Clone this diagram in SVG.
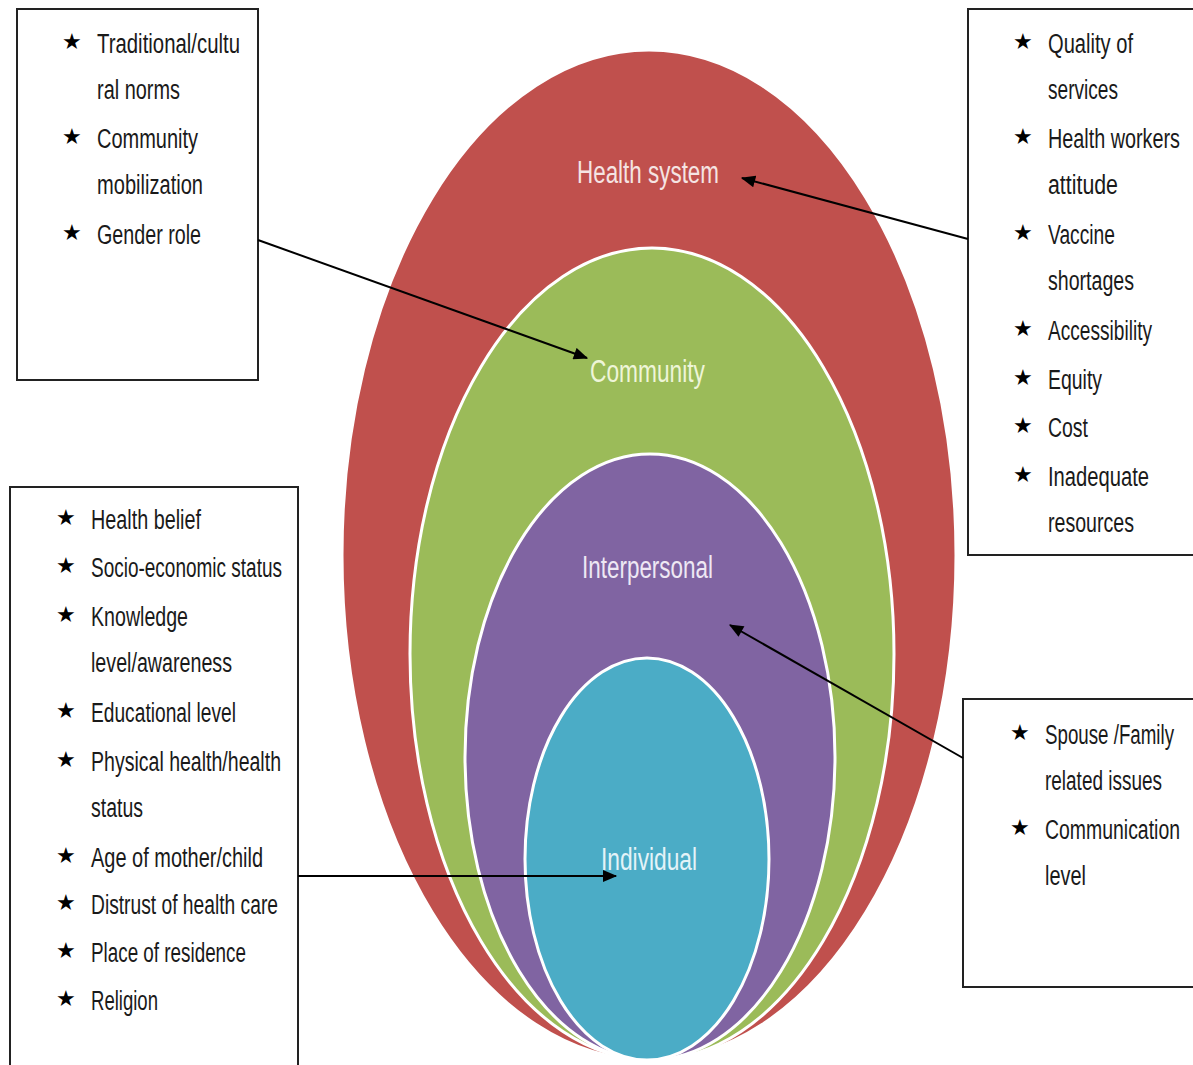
<svg xmlns="http://www.w3.org/2000/svg" width="1193" height="1065" viewBox="0 0 1193 1065">
<defs>
<marker id="ah" viewBox="0 0 12 10" refX="11" refY="5" markerWidth="15" markerHeight="12" markerUnits="userSpaceOnUse" orient="auto">
<path d="M0,0 L12,5 L0,10 z" fill="#000"/>
</marker>
</defs>
<style>
.box{fill:#fff;stroke:#222;stroke-width:2}
.it{font-family:"Liberation Sans",Arial,sans-serif;font-size:27px;fill:#1a1a1a}
.st{font-family:"DejaVu Sans",sans-serif;font-size:22px;fill:#000}
.ring{stroke:#fff;stroke-width:3}
.lbl{font-family:"Liberation Sans",Arial,sans-serif;font-size:31px;text-anchor:start}
.con{stroke:#000;stroke-width:2;fill:none;marker-end:url(#ah)}
</style>
<rect width="1193" height="1065" fill="#fff"/>
<g id="rings">
<g id="health-system"><ellipse class="ring" cx="649" cy="555" rx="307" ry="505" fill="#C0504D"/><text class="lbl" x="577" y="183" fill="#F5E4E3" textLength="142" lengthAdjust="spacingAndGlyphs">Health system</text></g>
<g id="community"><ellipse class="ring" cx="652" cy="654" rx="242" ry="406" fill="#9BBB59"/><text class="lbl" x="590" y="382" fill="#EEF5D8" textLength="115" lengthAdjust="spacingAndGlyphs">Community</text></g>
<g id="interpersonal"><ellipse class="ring" cx="650" cy="757" rx="185" ry="303" fill="#8064A2"/><text class="lbl" x="582" y="578" fill="#EEE8F4" textLength="131" lengthAdjust="spacingAndGlyphs">Interpersonal</text></g>
<g id="individual"><ellipse class="ring" cx="647" cy="859" rx="122" ry="201" fill="#4BACC6"/><text class="lbl" x="601" y="870" fill="#E4F3F8" textLength="96" lengthAdjust="spacingAndGlyphs">Individual</text></g>
</g>
<g id="box-community">
<rect class="box" x="17" y="9" width="241" height="371"/>
<text class="st" x="62" y="49">★</text><text class="it" x="97" y="53" textLength="143" lengthAdjust="spacingAndGlyphs">Traditional/cultu</text>
<text class="it" x="97" y="99" textLength="83" lengthAdjust="spacingAndGlyphs">ral norms</text>
<text class="st" x="62" y="144">★</text><text class="it" x="97" y="148" textLength="101" lengthAdjust="spacingAndGlyphs">Community</text>
<text class="it" x="97" y="194" textLength="106" lengthAdjust="spacingAndGlyphs">mobilization</text>
<text class="st" x="62" y="240">★</text><text class="it" x="97" y="244" textLength="104" lengthAdjust="spacingAndGlyphs">Gender role</text>
</g>
<g id="box-health-system">
<rect class="box" x="968" y="9" width="240" height="546"/>
<text class="st" x="1013" y="49">★</text><text class="it" x="1048" y="53" textLength="85" lengthAdjust="spacingAndGlyphs">Quality of</text>
<text class="it" x="1048" y="99" textLength="70" lengthAdjust="spacingAndGlyphs">services</text>
<text class="st" x="1013" y="144">★</text><text class="it" x="1048" y="148" textLength="132" lengthAdjust="spacingAndGlyphs">Health workers</text>
<text class="it" x="1048" y="194" textLength="70" lengthAdjust="spacingAndGlyphs">attitude</text>
<text class="st" x="1013" y="240">★</text><text class="it" x="1048" y="244" textLength="67" lengthAdjust="spacingAndGlyphs">Vaccine</text>
<text class="it" x="1048" y="290" textLength="86" lengthAdjust="spacingAndGlyphs">shortages</text>
<text class="st" x="1013" y="336">★</text><text class="it" x="1048" y="340" textLength="104" lengthAdjust="spacingAndGlyphs">Accessibility</text>
<text class="st" x="1013" y="385">★</text><text class="it" x="1048" y="389" textLength="54" lengthAdjust="spacingAndGlyphs">Equity</text>
<text class="st" x="1013" y="433">★</text><text class="it" x="1048" y="437" textLength="40" lengthAdjust="spacingAndGlyphs">Cost</text>
<text class="st" x="1013" y="482">★</text><text class="it" x="1048" y="486" textLength="101" lengthAdjust="spacingAndGlyphs">Inadequate</text>
<text class="it" x="1048" y="532" textLength="86" lengthAdjust="spacingAndGlyphs">resources</text>
</g>
<g id="box-individual">
<rect class="box" x="10" y="487" width="288" height="590"/>
<text class="st" x="56" y="525">★</text><text class="it" x="91" y="529" textLength="110" lengthAdjust="spacingAndGlyphs">Health belief</text>
<text class="st" x="56" y="573">★</text><text class="it" x="91" y="577" textLength="191" lengthAdjust="spacingAndGlyphs">Socio-economic status</text>
<text class="st" x="56" y="622">★</text><text class="it" x="91" y="626" textLength="97" lengthAdjust="spacingAndGlyphs">Knowledge</text>
<text class="it" x="91" y="672" textLength="141" lengthAdjust="spacingAndGlyphs">level/awareness</text>
<text class="st" x="56" y="718">★</text><text class="it" x="91" y="722" textLength="145" lengthAdjust="spacingAndGlyphs">Educational level</text>
<text class="st" x="56" y="767">★</text><text class="it" x="91" y="771" textLength="190" lengthAdjust="spacingAndGlyphs">Physical health/health</text>
<text class="it" x="91" y="817" textLength="52" lengthAdjust="spacingAndGlyphs">status</text>
<text class="st" x="56" y="863">★</text><text class="it" x="91" y="867" textLength="172" lengthAdjust="spacingAndGlyphs">Age of mother/child</text>
<text class="st" x="56" y="910">★</text><text class="it" x="91" y="914" textLength="187" lengthAdjust="spacingAndGlyphs">Distrust of health care</text>
<text class="st" x="56" y="958">★</text><text class="it" x="91" y="962" textLength="155" lengthAdjust="spacingAndGlyphs">Place of residence</text>
<text class="st" x="56" y="1006">★</text><text class="it" x="91" y="1010" textLength="67" lengthAdjust="spacingAndGlyphs">Religion</text>
</g>
<g id="box-interpersonal">
<rect class="box" x="963" y="699" width="240" height="288"/>
<text class="st" x="1010" y="740">★</text><text class="it" x="1045" y="744" textLength="129" lengthAdjust="spacingAndGlyphs">Spouse /Family</text>
<text class="it" x="1045" y="790" textLength="117" lengthAdjust="spacingAndGlyphs">related issues</text>
<text class="st" x="1010" y="835">★</text><text class="it" x="1045" y="839" textLength="135" lengthAdjust="spacingAndGlyphs">Communication</text>
<text class="it" x="1045" y="885" textLength="41" lengthAdjust="spacingAndGlyphs">level</text>
</g>
<g id="connectors">
<line class="con" x1="258" y1="240" x2="587" y2="358"/>
<line class="con" x1="968" y1="239" x2="742" y2="178"/>
<line class="con" x1="963" y1="758" x2="730" y2="625"/>
<line class="con" x1="298" y1="876" x2="616" y2="876"/>
</g>
</svg>
